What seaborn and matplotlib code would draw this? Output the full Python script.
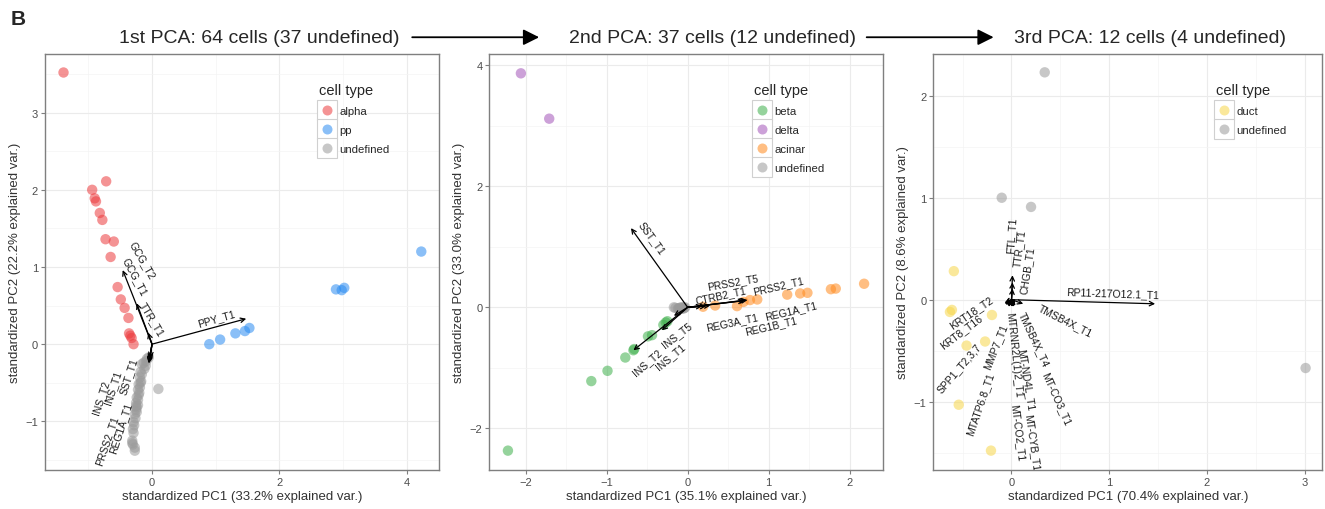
import matplotlib
matplotlib.use("Agg")
import matplotlib.pyplot as plt
from matplotlib.lines import Line2D
from matplotlib.legend_handler import HandlerTuple
from matplotlib.patches import FancyArrowPatch
from matplotlib.ticker import AutoMinorLocator
import pandas as pd
import seaborn as sns

# ---- 1st PCA: 64 cells ----
pca1_type = ['alpha'] * 18 + ['pp'] * 9 + ['undefined'] * 37
pca1_x = [-1.39, -0.72, -0.94, -0.90, -0.88, -0.82, -0.78, -0.73, -0.60, -0.65, -0.54, -0.49, -0.43,
          -0.37, -0.36, -0.32, -0.29, -0.34,
          0.90, 1.07, 1.31, 1.46, 1.53, 2.89, 2.98, 3.02, 4.23,
          -0.09, -0.08, -0.13, -0.16, -0.12, -0.18, -0.16, -0.19, -0.17, -0.18, -0.21, -0.19, -0.22,
          -0.20, -0.21, -0.24, -0.22, -0.25, -0.22, -0.25, -0.24, -0.25, -0.27, -0.26, -0.29, -0.28,
          -0.30, -0.29, -0.31, -0.31, -0.30, -0.27, -0.27, 0.10, -0.05, -0.10, -0.24]
pca1_y = [3.52, 2.11, 2.00, 1.89, 1.85, 1.70, 1.61, 1.36, 1.33, 1.13, 0.74, 0.58, 0.47,
          0.34, 0.14, 0.08, 0.00, 0.11,
          0.00, 0.06, 0.14, 0.17, 0.21, 0.71, 0.70, 0.73, 1.20,
          -0.22, -0.19, -0.24, -0.26, -0.32, -0.36, -0.39, -0.43, -0.48, -0.50, -0.52, -0.56, -0.59,
          -0.63, -0.66, -0.69, -0.72, -0.76, -0.79, -0.80, -0.82, -0.85, -0.91, -0.96, -1.01, -1.05,
          -1.10, -1.15, -1.25, -1.28, -1.30, -1.34, -1.38, -0.58, -0.17, -0.28, -0.88]
pca1_genes = ['GCG_T2', 'GCG_T1', 'TTR_T1', 'PPY_T1', 'INS_T2', 'INS_T1', 'SST_T1', 'PRSS2_T1', 'REG1A_T1']
pca1_gx = [-0.46, -0.24, -0.06, 1.48, -0.04, -0.05, -0.03, -0.04, -0.05]
pca1_gy = [0.96, 0.53, 0.15, 0.33, -0.22, -0.25, -0.18, -0.20, -0.24]
pca1_lx = [-0.157, -0.267, 0.0, 1.015, -0.805, -0.612, -0.366, -0.706, -0.492]
pca1_ly = [1.102, 0.882, 0.324, 0.342, -0.679, -0.549, -0.402, -1.236, -1.081]
pca1_rot = [-60, -62, -59, 16, 72, 72, 72, 71, 72]

# ---- 2nd PCA: 37 cells ----
pca2_type = ['beta'] * 11 + ['delta'] * 2 + ['acinar'] * 12 + ['undefined'] * 12
pca2_x = [-2.22, -1.19, -0.99, -0.77, -0.67, -0.66, -0.49, -0.44, -0.30, -0.27, -0.25,
          -2.06, -1.71,
          0.34, 0.61, 0.77, 0.86, 1.23, 1.39, 1.48, 1.77, 1.83, 2.18, 0.69, 0.19,
          -0.17, -0.15, -0.12, -0.10, -0.09, -0.07, -0.06, -0.05, -0.04, -0.03, -0.08, -0.11]
pca2_y = [-2.37, -1.22, -1.05, -0.83, -0.71, -0.69, -0.48, -0.46, -0.29, -0.25, -0.23,
          3.87, 3.12,
          0.03, 0.02, 0.12, 0.13, 0.21, 0.23, 0.24, 0.30, 0.31, 0.39, 0.09, 0.01,
          0.00, -0.01, -0.02, -0.01, -0.03, -0.02, 0.00, -0.02, -0.01, 0.00, 0.00, -0.02]
pca2_genes = ['SST_T1', 'PRSS2_T5', 'CTRB2_T1', 'PRSS2_T1', 'REG3A_T1', 'REG1A_T1', 'REG1B_T1',
              'INS_T2', 'INS_T5', 'INS_T1']
pca2_gx = [-0.70, 0.28, 0.23, 0.74, 0.18, 0.72, 0.70, -0.67, -0.32, -0.17]
pca2_gy = [1.31, 0.03, 0.02, 0.12, 0.02, 0.12, 0.11, -0.71, -0.38, -0.14]
pca2_lx = [-0.444, 0.560, 0.416, 1.123, 0.543, 1.272, 1.029, -0.506, -0.128, -0.218]
pca2_ly = [1.163, 0.424, 0.209, 0.364, -0.231, -0.050, -0.292, -0.904, -0.446, -0.810]
pca2_rot = [-54, 10, 12, 13, 12, 13, 13, 41, 38, 40]

# ---- 3rd PCA: 12 cells ----
pca3_type = ['duct'] * 8 + ['undefined'] * 4
pca3_x = [-0.59, -0.61, -0.63, -0.20, -0.46, -0.27, -0.54, -0.21, 0.34, -0.10, 0.20, 3.01]
pca3_y = [0.28, -0.10, -0.12, -0.15, -0.45, -0.41, -1.03, -1.48, 2.23, 1.00, 0.91, -0.67]
pca3_genes = ['RP11-217O12.1_T1', 'FTL_T1', 'TTR_T1', 'CHGB_T1', 'TMSB4X_T1', 'TMSB4X_T4',
              'MT-CO3_T1', 'MTRNR2L(1)2_T1', 'MT-ND4L_T1', 'MT-CO2_T1', 'MT-CYB_T1',
              'KRT18_T2', 'KRT8_T16', 'SPP1_T2,3,7', 'MMP7_T1', 'MTATP6.8_T1']
pca3_gx = [1.47, 0.01, 0.01, 0.01, 0.12, 0.04, 0.03, 0.005, 0.02, 0.01, 0.02,
           -0.07, -0.07, -0.06, -0.04, -0.03]
pca3_gy = [-0.04, 0.24, 0.17, 0.11, -0.04, -0.06, -0.06, -0.07, -0.07, -0.07, -0.07,
           -0.03, -0.04, -0.05, -0.06, -0.07]
pca3_lx = [1.031, 0.0, 0.085, 0.163, 0.553, 0.231, 0.458, 0.017, 0.149, 0.061, 0.210,
           -0.414, -0.515, -0.536, -0.159, -0.322]
pca3_ly = [0.069, 0.637, 0.513, 0.294, -0.199, -0.386, -0.964, -0.533, -0.778, -1.294, -1.395,
           -0.121, -0.304, -0.663, -0.458, -1.013]
pca3_rot = [-2, 86, 82, 81, -27, -65, -66, -84, -81, -83, -82, 34, 37, 49, 68, 71]

palette = {'alpha': '#ec3a3d', 'pp': '#2b8cf2', 'beta': '#3fb04c', 'delta': '#a354b8',
           'acinar': '#ff8a1c', 'duct': '#f7d64a', 'undefined': '#9a9a9a'}

sns.set_style("white")
plt.rcParams['font.family'] = ['Liberation Sans', 'DejaVu Sans']

fig = plt.figure(figsize=(13.25, 5.10), dpi=100)

panels = [
    dict(rect=[0.034, 0.0765, 0.2974, 0.8157], x=pca1_x, y=pca1_y, t=pca1_type,
         order=['alpha', 'pp', 'undefined'], genes=pca1_genes, gx=pca1_gx, gy=pca1_gy,
         lx=pca1_lx, ly=pca1_ly, rot=pca1_rot, xlim=(-1.68, 4.51), ylim=(-1.63, 3.76),
         xticks=[0, 2, 4], yticks=[-1, 0, 1, 2, 3], leg=(0.683, 0.94),
         xlab='standardized PC1 (33.2% explained var.)', ylab='standardized PC2 (22.2% explained var.)'),
    dict(rect=[0.3693, 0.0765, 0.2969, 0.8157], x=pca2_x, y=pca2_y, t=pca2_type,
         order=['beta', 'delta', 'acinar', 'undefined'], genes=pca2_genes, gx=pca2_gx, gy=pca2_gy,
         lx=pca2_lx, ly=pca2_ly, rot=pca2_rot, xlim=(-2.45, 2.41), ylim=(-2.69, 4.19),
         xticks=[-2, -1, 0, 1, 2], yticks=[-2, 0, 2, 4], leg=(0.66, 0.94),
         xlab='standardized PC1 (35.1% explained var.)', ylab='standardized PC2 (33.0% explained var.)'),
    dict(rect=[0.7044, 0.0765, 0.2935, 0.8157], x=pca3_x, y=pca3_y, t=pca3_type,
         order=['duct', 'undefined'], genes=pca3_genes, gx=pca3_gx, gy=pca3_gy,
         lx=pca3_lx, ly=pca3_ly, rot=pca3_rot, xlim=(-0.80, 3.18), ylim=(-1.67, 2.41),
         xticks=[0, 1, 2, 3], yticks=[-1, 0, 1, 2], leg=(0.715, 0.94),
         xlab='standardized PC1 (70.4% explained var.)', ylab='standardized PC2 (8.6% explained var.)'),
]

for p in panels:
    ax = fig.add_axes(p['rect'])
    df = pd.DataFrame({'PC1': p['x'], 'PC2': p['y'], 'cell type': p['t']})
    sns.scatterplot(data=df, x='PC1', y='PC2', hue='cell type', hue_order=p['order'],
                    palette=palette, s=56, alpha=0.55, edgecolor='none', legend=False, ax=ax, zorder=3)

    # loading arrows + gene labels
    for g, gx, gy, lx, ly, r in zip(p['genes'], p['gx'], p['gy'], p['lx'], p['ly'], p['rot']):
        ax.annotate('', xy=(gx, gy), xytext=(0, 0),
                    arrowprops=dict(arrowstyle='->', color='black', lw=0.9,
                                    shrinkA=0, shrinkB=0, mutation_scale=8), zorder=4)
        ax.text(lx, ly, g, rotation=r, rotation_mode='anchor', ha='center', va='center',
                fontsize=7.5, color='#1a1a1a', clip_on=True, zorder=5)

    ax.set_xlim(*p['xlim'])
    ax.set_ylim(*p['ylim'])
    ax.set_xticks(p['xticks'])
    ax.set_yticks(p['yticks'])
    ax.xaxis.set_minor_locator(AutoMinorLocator(2))
    ax.yaxis.set_minor_locator(AutoMinorLocator(2))
    ax.grid(which='major', color='#ebebeb', lw=0.8, zorder=0)
    ax.grid(which='minor', color='#f4f4f4', lw=0.5, zorder=0)
    ax.set_axisbelow(True)
    for s in ax.spines.values():
        s.set_color('#7f7f7f')
        s.set_linewidth(1.0)
    ax.tick_params(which='major', length=3, color='#7f7f7f', labelsize=8, labelcolor='#4d4d4d',
                   bottom=True, left=True, pad=2)
    ax.tick_params(which='minor', length=0)
    ax.set_xlabel(p['xlab'], fontsize=9.5, color='#333333', labelpad=2)
    ax.set_ylabel(p['ylab'], fontsize=9.5, color='#333333', labelpad=3)

    # ggplot-style legend with boxed keys
    handles = []
    for c in p['order']:
        box = Line2D([], [], marker='s', ls='none', markersize=14.5, markerfacecolor='white',
                     markeredgecolor='#d0d0d0', markeredgewidth=0.8)
        dot = Line2D([], [], marker='o', ls='none', markersize=7.2, markerfacecolor=palette[c],
                     markeredgecolor='none', alpha=0.55)
        handles.append((box, dot))
    leg = ax.legend(handles, p['order'], handler_map={tuple: HandlerTuple(ndivide=1)},
                    title='cell type', loc='upper left', bbox_to_anchor=p['leg'], frameon=False,
                    fontsize=8.2, title_fontsize=10.5, handlelength=1.45, handletextpad=0.35,
                    labelspacing=0.78, borderaxespad=0)
    leg._legend_box.align = 'left'

# panel letter, titles and connecting arrows
fig.text(0.008, 0.962, 'B', fontsize=15, fontweight='bold', ha='left', va='center')
fig.text(0.196, 0.925, '1st PCA: 64 cells (37 undefined)', fontsize=14, ha='center', va='center')
fig.text(0.538, 0.925, '2nd PCA: 37 cells (12 undefined)', fontsize=14, ha='center', va='center')
fig.text(0.868, 0.925, '3rd PCA: 12 cells (4 undefined)', fontsize=14, ha='center', va='center')
for x0, x1 in [(0.309, 0.409), (0.652, 0.752)]:
    fig.add_artist(FancyArrowPatch((x0, 0.925), (x1, 0.925), transform=fig.transFigure,
                                   arrowstyle='-|>', mutation_scale=24, lw=1.3, color='black'))

fig.savefig('out.png', dpi=100)
